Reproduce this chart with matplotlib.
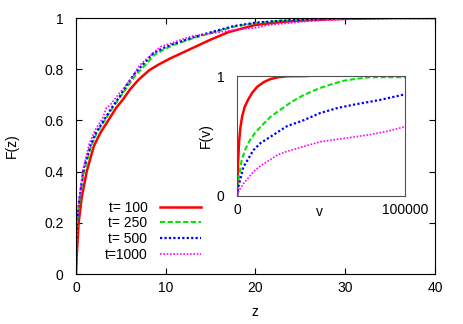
import matplotlib

matplotlib.use("Agg")
import matplotlib.pyplot as plt

plt.rcParams["font.family"] = ["Liberation Sans", "DejaVu Sans"]
plt.rcParams["font.size"] = 10

# main panel: cumulative distribution F(z) for each t
labels = ["t= 100", "t= 250", "t= 500", "t=1000"]
colors = ["#ff0000", "#00e600", "#0000ff", "#ff00ff"]

z_100 = [0, 0.1, 0.3, 0.65, 1.2, 2.0, 2.7, 3.6, 4.5, 5.2, 6.0, 7.0, 8.2, 9.3,
         10.5, 11.6, 12.7, 14.9, 17, 20, 23, 26, 30, 35, 40]
f_100 = [0, 0.08, 0.2, 0.3, 0.4, 0.5, 0.55, 0.6, 0.65, 0.68, 0.72, 0.76, 0.797,
         0.82, 0.842, 0.86, 0.878, 0.914, 0.945, 0.973, 0.985, 0.992, 0.997, 1.0, 1.0]

z_250 = [0, 0.06, 0.15, 0.45, 0.9, 1.7, 2.3, 3.2, 4.1, 5.1, 5.7, 6.5, 7.6, 8.7,
         9.8, 10.9, 12.1, 13.2, 15.4, 17.6, 20, 23, 26, 30, 35, 40]
f_250 = [0, 0.1, 0.2, 0.3, 0.4, 0.5, 0.55, 0.6, 0.65, 0.7, 0.73, 0.77, 0.812,
         0.855, 0.877, 0.895, 0.91, 0.923, 0.945, 0.966, 0.98, 0.99, 0.995, 0.998, 1.0, 1.0]

z_500 = [0, 0.05, 0.12, 0.4, 0.85, 1.6, 2.2, 3.1, 4.0, 5.0, 5.6, 6.4, 7.5, 8.6,
         9.7, 10.8, 12, 13.1, 15.3, 17.5, 20, 23, 26, 30, 35, 40]
f_500 = [0, 0.1, 0.2, 0.3, 0.41, 0.5, 0.55, 0.6, 0.65, 0.7, 0.735, 0.777, 0.82,
         0.862, 0.882, 0.898, 0.912, 0.925, 0.947, 0.968, 0.982, 0.99, 0.995, 0.998, 1.0, 1.0]

z_1000 = [0, 0.05, 0.12, 0.4, 0.8, 1.5, 2.1, 3.0, 3.4, 3.8, 4.7, 5.6, 6.3, 7.1,
          8.2, 9.4, 10.5, 11.6, 13, 14.5, 16, 18, 20, 21.5, 25, 28, 32, 36, 40]
f_1000 = [0, 0.1, 0.2, 0.3, 0.41, 0.51, 0.56, 0.61, 0.65, 0.66, 0.7, 0.738, 0.77,
          0.816, 0.85, 0.888, 0.9, 0.914, 0.93, 0.937, 0.945, 0.955, 0.962, 0.973,
          0.985, 0.992, 0.997, 1.0, 1.0]

# inset: F(v)
v_100 = [0, 300, 700, 1200, 2000, 3000, 4500, 6500, 9000, 12000, 16000, 20000,
         25000, 30000, 42000]
g_100 = [0, 0.15, 0.3, 0.45, 0.57, 0.66, 0.74, 0.8, 0.86, 0.91, 0.95, 0.975,
         0.991, 0.998, 1.0]

v_250 = [0, 1000, 2800, 5000, 7700, 11000, 15700, 20000, 25600, 32000, 39500,
         49400, 56000, 63300, 70000, 79200, 100000]
g_250 = [0, 0.15, 0.3, 0.39, 0.465, 0.53, 0.6, 0.66, 0.716, 0.78, 0.84, 0.9,
         0.93, 0.96, 0.975, 0.99, 0.99]

v_500 = [0, 800, 3800, 9700, 14000, 19600, 29600, 39500, 49400, 59000, 69200,
         85000, 100000]
g_500 = [0, 0.075, 0.24, 0.38, 0.44, 0.49, 0.58, 0.63, 0.69, 0.73, 0.76, 0.8, 0.847]

v_1000 = [0, 1500, 3800, 9700, 14000, 19600, 24000, 29600, 39500, 49400, 59000,
          69200, 79000, 90000, 100000]
g_1000 = [0, 0.05, 0.1, 0.2, 0.25, 0.3, 0.34, 0.37, 0.41, 0.45, 0.47, 0.49,
          0.51, 0.54, 0.577]

main_series = [(z_100, f_100), (z_250, f_250), (z_500, f_500), (z_1000, f_1000)]
inset_series = [(v_100, g_100), (v_250, g_250), (v_500, g_500), (v_1000, g_1000)]
styles = [
    dict(linestyle="-", linewidth=1.8),
    dict(linestyle=(0, (2.5, 1.2)), linewidth=1.5),
    dict(linestyle=(0, (1, 1)), linewidth=1.6),
    dict(linestyle=(0, (1, 1)), linewidth=1.2),
]

fig = plt.figure(figsize=(4.63, 3.24), dpi=100)
ax = fig.add_axes([0.164, 0.1543, 0.7754, 0.790])
for (x, y), lab, col, st in zip(main_series, labels, colors, styles):
    ax.plot(x, y, color=col, label=lab, **st)
ax.set_xlim(0, 40)
ax.set_ylim(0, 1)
ax.set_xticks([0, 10, 20, 30, 40])
ax.set_yticks([0, 0.2, 0.4, 0.6, 0.8, 1])
ax.set_yticklabels(["0", "0.2", "0.4", "0.6", "0.8", "1"])
ax.tick_params(direction="in", top=True, right=True, length=4)
ax.tick_params(axis="y", pad=9)
ax.tick_params(axis="x", pad=5)
ax.set_xlabel("z")
ax.set_ylabel("F(z)")
ax.xaxis.set_label_coords(0.4986, -0.12)
ax.yaxis.set_label_coords(-0.16, 0.5)

ax.legend(loc="upper right", bbox_to_anchor=(0.348, 0.287), frameon=False,
          markerfirst=False, handlelength=2.95, handletextpad=0.9,
          labelspacing=0.12, borderpad=0, borderaxespad=0)

# inset
ins = fig.add_axes([0.512, 0.396, 0.3629, 0.3694])
for (x, y), col, st in zip(inset_series, colors, styles):
    ins.plot(x, y, color=col, **st)
ins.set_xlim(0, 100000)
ins.set_ylim(0, 1)
ins.set_xticks([0, 100000])
ins.set_xticklabels(["0", "100000"])
ins.set_yticks([0, 1])
ins.set_yticklabels(["0", "1"])
ins.tick_params(direction="in", length=0, pad=5)
ins.tick_params(axis="y", pad=9)
for sp in ins.spines.values():
    sp.set_color("#505050")
ins.set_xlabel("v")
ins.set_ylabel("F(v)")
ins.xaxis.set_label_coords(0.49, -0.08)
ins.yaxis.set_label_coords(-0.143, 0.5)

fig.savefig("out.png", dpi=100)
